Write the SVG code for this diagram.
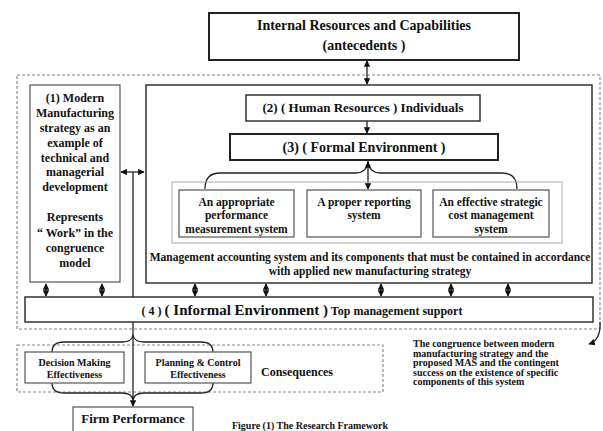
<svg xmlns="http://www.w3.org/2000/svg" width="603" height="431" viewBox="0 0 603 431">
<defs>
<marker id="ah" viewBox="0 0 10 10" refX="9" refY="5" markerWidth="5" markerHeight="5" orient="auto-start-reverse">
<path d="M0,0 L10,5 L0,10 z" fill="#111"/>
</marker>
<style>
.box{fill:#fff;stroke:#333;stroke-width:1.5}
.thick{fill:#fff;stroke:#222;stroke-width:2}
.thin{fill:#fff;stroke:#555;stroke-width:1.2}
.dash{fill:none;stroke:#888;stroke-width:1.2;stroke-dasharray:3 2}
.dot{fill:none;stroke:#aaa;stroke-width:1}
.ln{fill:none;stroke:#222;stroke-width:1.3}
.ar{fill:none;stroke:#222;stroke-width:1.3;marker-end:url(#ah)}
.ar2{fill:none;stroke:#222;stroke-width:1.3;marker-start:url(#ah);marker-end:url(#ah)}
text{font-family:"Liberation Serif","Times New Roman",serif;font-weight:bold;fill:#111;text-anchor:middle}
.t14{font-size:14px}
.t13{font-size:13px}
.t12{font-size:12px}
.t11{font-size:11.5px}
.t10{font-size:10px}
.ann{font-size:10px;text-anchor:start}
</style>
</defs>

<g id="frames">
<rect class="dash" x="17" y="75" width="583" height="254"/>
<rect class="dash" x="17" y="345" width="366" height="47"/>
</g>

<g id="n-internal">
<rect class="thick" x="209" y="13" width="310" height="47"/>
<text class="t14" x="364" y="30">Internal Resources and Capabilities</text>
<text class="t14" x="364" y="50">(antecedents )</text>
</g>

<g id="n-main">
<rect class="box" x="146" y="85" width="446" height="198" stroke="#444"/>
</g>

<g id="connectors">
<line class="ar2" x1="367" y1="61" x2="367" y2="84"/>
<line class="ar" x1="367" y1="121" x2="367" y2="133"/>
<line class="ar2" x1="121" y1="172" x2="144" y2="172"/>
<line class="ln" x1="133" y1="172" x2="133" y2="297"/>
<line class="ar" x1="133" y1="322" x2="133" y2="406"/>
<path class="ln" d="M205,189 Q205,173 220,173 L355,173 Q367,173 368,161 Q369,173 381,173 L502,173 Q517,173 517,189"/>
<line class="ar2" x1="368" y1="162" x2="368" y2="189"/>
<path class="ln" d="M52,352 Q52,342 64,342 L122,342 Q132,342 133,335 Q134,342 144,342 L201,342 Q213,342 213,352"/>
<path class="ln" d="M52,383 Q52,393 64,393 L122,393 Q132,393 133,400 Q134,393 144,393 L201,393 Q213,393 213,383"/>
<line class="ar2" x1="46" y1="284" x2="46" y2="296"/>
<line class="ar2" x1="102" y1="284" x2="102" y2="296"/>
<line class="ar2" x1="195" y1="284" x2="195" y2="296"/>
<line class="ar2" x1="266" y1="284" x2="266" y2="296"/>
<line class="ar2" x1="381" y1="284" x2="381" y2="296"/>
<line class="ar2" x1="451" y1="284" x2="451" y2="296"/>
<line class="ar2" x1="508" y1="284" x2="508" y2="296"/>
<path class="ar" d="M600,322 Q601,340 589,344"/>
</g>

<g id="n-modern">
<rect class="thin" x="30" y="85" width="90" height="197"/>
<text class="t12" x="75" y="102">(1) Modern</text>
<text class="t12" x="75" y="117">Manufacturing</text>
<text class="t12" x="75" y="132">strategy as an</text>
<text class="t12" x="75" y="147">example of</text>
<text class="t12" x="75" y="162">technical and</text>
<text class="t12" x="75" y="176">managerial</text>
<text class="t12" x="75" y="191">development</text>
<text class="t12" x="75" y="221">Represents</text>
<text class="t12" x="75" y="237">“ Work” in the</text>
<text class="t12" x="75" y="252">congruence</text>
<text class="t12" x="75" y="267">model</text>
</g>

<g id="n-human">
<rect class="box" x="246" y="95" width="234" height="26"/>
<text class="t13" x="363" y="112">(2)  ( Human Resources  )  Individuals</text>
</g>

<g id="n-formal">
<rect class="thick" x="230" y="134" width="268" height="26"/>
<text class="t14" x="364" y="152">(3)  (  Formal  Environment  )</text>
</g>

<g id="n-mas">
<rect class="dot" x="172" y="182" width="390" height="61"/>
<text class="t11" x="370" y="261">Management accounting system and its components that must be contained in accordance</text>
<text class="t11" x="370" y="275">with applied new manufacturing strategy</text>
</g>

<g id="n-perf">
<rect class="thin" x="179" y="190" width="115" height="47"/>
<text class="t11" x="236.5" y="206">An appropriate</text>
<text class="t11" x="236.5" y="219">performance</text>
<text class="t11" x="236.5" y="233">measurement system</text>
</g>

<g id="n-report">
<rect class="thin" x="307" y="190" width="114" height="47"/>
<text class="t11" x="364" y="206">A proper reporting</text>
<text class="t11" x="364" y="219">system</text>
</g>

<g id="n-cost">
<rect class="thin" x="433" y="190" width="116" height="47"/>
<text class="t11" x="491" y="206">An effective strategic</text>
<text class="t11" x="491" y="219">cost management</text>
<text class="t11" x="491" y="233">system</text>
</g>

<g id="n-informal">
<rect class="box" x="25" y="297" width="568" height="25"/>
<text x="302" y="315"><tspan font-size="12">( 4 )    </tspan><tspan font-size="15">(  Informal Environment  )</tspan><tspan font-size="12">  Top management support</tspan></text>
</g>

<g id="n-decision">
<rect class="thin" x="25" y="352" width="99" height="31"/>
<text class="t10" x="74.5" y="366">Decision Making</text>
<text class="t10" x="74.5" y="378">Effectiveness</text>
</g>

<g id="n-planning">
<rect class="thin" x="145" y="352" width="106" height="31"/>
<text class="t10" x="198" y="366">Planning  &amp; Control</text>
<text class="t10" x="198" y="378">Effectiveness</text>
</g>

<g id="n-consequences">
<text class="t12" x="297" y="376">Consequences</text>
</g>

<g id="n-firm">
<rect class="thin" x="73" y="407" width="120" height="30"/>
<text class="t13" x="133" y="423">Firm Performance</text>
</g>

<g id="n-note">
<text class="ann" x="413" y="347">The congruence between modern</text>
<text class="ann" x="413" y="356.5">manufacturing strategy  and the</text>
<text class="ann" x="413" y="366">proposed MAS  and the contingent</text>
<text class="ann" x="413" y="375.5">success on the existence of specific</text>
<text class="ann" x="413" y="385">components of this system</text>
</g>

<g id="caption">
<text class="t10" x="310" y="429">Figure (1) The Research Framework</text>
</g>
</svg>
